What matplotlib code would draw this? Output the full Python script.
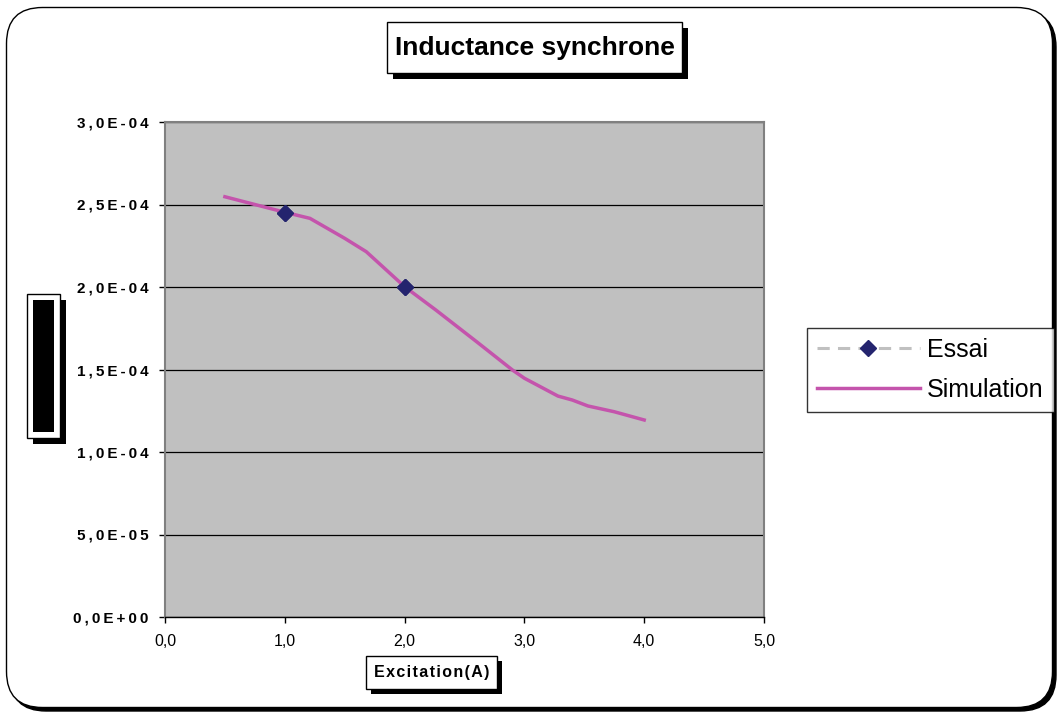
import matplotlib
matplotlib.use('Agg')
import matplotlib.pyplot as plt
from matplotlib.patches import FancyBboxPatch, Rectangle
from matplotlib.ticker import FuncFormatter, MultipleLocator

plt.rcParams['font.family'] = ['Liberation Sans', 'DejaVu Sans']

# données
essai_x = [1.0, 2.0]
essai_y = [2.45e-4, 2.00e-4]

sim_x = [0.5, 0.75, 1.0, 1.21, 1.5, 1.68, 2.0, 2.26, 2.6, 2.9, 3.0, 3.28, 3.4, 3.53, 3.75, 4.0]
sim_y = [2.547e-4, 2.50e-4, 2.453e-4, 2.416e-4, 2.295e-4, 2.214e-4, 2.002e-4, 1.861e-4,
         1.669e-4, 1.497e-4, 1.447e-4, 1.339e-4, 1.315e-4, 1.279e-4, 1.244e-4, 1.194e-4]

title = 'Inductance synchrone'
xlabel = 'Excitation(A)'
series_names = ['Essai', 'Simulation']

W, H = 1060, 715
fig = plt.figure(figsize=(W / 100, H / 100), dpi=100)


def px_box(x0, y0, x1, y1):
    # pixel coords (origin top-left) -> figure fraction rect
    return x0 / W, 1 - y1 / H, (x1 - x0) / W, (y1 - y0) / H


def shadow_box(x0, y0, x1, y1, off=6):
    l, b, w, h = px_box(x0 + off, y0 + off, x1 + off, y1 + off)
    fig.patches.append(Rectangle((l, b), w, h, transform=fig.transFigure,
                                 facecolor='black', edgecolor='none', zorder=1))
    l, b, w, h = px_box(x0, y0, x1, y1)
    fig.patches.append(Rectangle((l, b), w, h, transform=fig.transFigure,
                                 facecolor='white', edgecolor='black', lw=1, zorder=2))


# cadre arrondi avec ombre
fig.patches.append(FancyBboxPatch((0.10, 0.04), 10.46, 7.0, boxstyle='round,pad=0,rounding_size=0.36',
                                  transform=fig.dpi_scale_trans, facecolor='black',
                                  edgecolor='black', lw=1, zorder=-2))
fig.patches.append(FancyBboxPatch((0.065, 0.075), 10.46, 7.0, boxstyle='round,pad=0,rounding_size=0.36',
                                  transform=fig.dpi_scale_trans, facecolor='white',
                                  edgecolor='black', lw=1, zorder=-1))

ax = fig.add_axes([165 / W, 1 - 617 / H, 599 / W, 495 / H])
ax.set_facecolor('#C0C0C0')

ax.plot(essai_x, essai_y, linestyle=(0, (4, 2.7)), color='#C0C0C0', lw=2.2,
        marker='D', markersize=8.5, markerfacecolor='#24246E', markeredgecolor='#24246E',
        zorder=2, label=series_names[0])
ax.plot(sim_x, sim_y, color='#C454AC', lw=2.5, zorder=3, label=series_names[1])
ax.plot(essai_x, essai_y, linestyle='none', marker='D', markersize=8.5,
        markerfacecolor='#24246E', markeredgecolor='#24246E', zorder=4)

ax.set_xlim(0, 5)
ax.set_ylim(0, 3e-4)
ax.xaxis.set_major_locator(MultipleLocator(1))
ax.yaxis.set_major_locator(MultipleLocator(5e-5))
ax.yaxis.grid(True, color='black', lw=0.9)
ax.set_axisbelow(True)


def yfmt(v, pos):
    s = f'{v:.1E}'.replace('.', ',')
    return '\u2009'.join(s)


ax.yaxis.set_major_formatter(FuncFormatter(yfmt))
ax.xaxis.set_major_formatter(FuncFormatter(lambda v, p: f'{v:.1f}'.replace('.', ',')))
ax.tick_params(axis='y', labelsize=11, length=4, width=1, pad=8, direction='out')
ax.tick_params(axis='x', labelsize=11.5, length=4, width=1, pad=8, direction='out')
for lab in ax.get_yticklabels():
    lab.set_fontweight('bold')

for side in ['top', 'right', 'left']:
    ax.spines[side].set_color('#808080')
    ax.spines[side].set_linewidth(1.5)
ax.spines['bottom'].set_color('black')
ax.spines['bottom'].set_linewidth(1)

# titre
shadow_box(387, 22, 682, 73)
fig.text((387 + 682) / 2 / W, 1 - 48 / H, title, ha='center', va='center',
         fontsize=19, fontweight='bold', zorder=3)

# étiquette x
shadow_box(366, 656, 497, 689, off=5)
fig.text((366 + 497) / 2 / W, 1 - 673 / H, '\u200a'.join(xlabel), ha='center', va='center',
         fontsize=11.5, fontweight='bold', zorder=3)

# étiquette y (texte noirci)
shadow_box(27, 294, 60, 438)
l, b, w, h = px_box(33, 300, 54, 432)
fig.patches.append(Rectangle((l, b), w, h, transform=fig.transFigure,
                             facecolor='black', edgecolor='none', zorder=3))

# légende
leg = ax.legend(loc='center left', bbox_to_anchor=(807 / W, 1 - 370 / H),
                bbox_transform=fig.transFigure, fontsize=18, frameon=True,
                fancybox=False, edgecolor='black', handlelength=4.1,
                handletextpad=0.3, labelspacing=0.65, borderpad=0.4,
                borderaxespad=0)
leg.get_frame().set_linewidth(1)

fig.savefig('out.png', dpi=100)
